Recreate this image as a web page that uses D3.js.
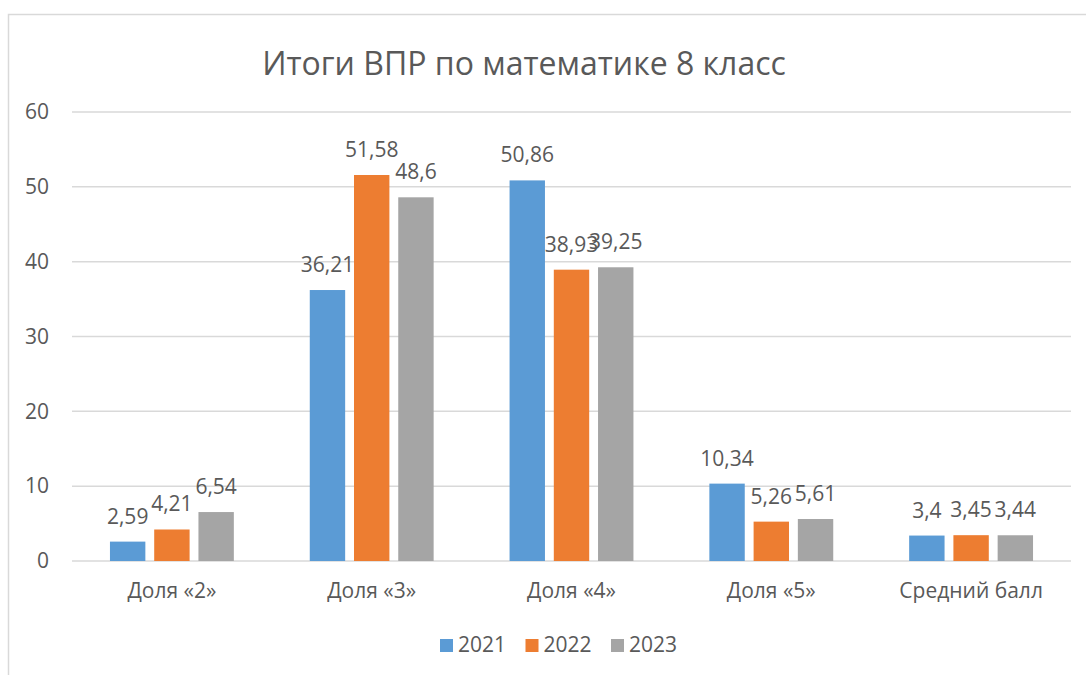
<!DOCTYPE html>
<html>
<head>
<meta charset="utf-8">
<script src="https://cdn.jsdelivr.net/npm/d3@7"></script>
<style>
  body { margin: 0; background: #fff; }
  svg text { font-family: "Open Sans", "Liberation Sans", sans-serif; fill: #595959; }
</style>
</head>
<body>
<div id="chart"></div>
<script>
'use strict';
var categories = ['Доля «2»', 'Доля «3»', 'Доля «4»', 'Доля «5»', 'Средний балл'];
var years = ['2021', '2022', '2023'];
var values2021 = [2.59, 36.21, 50.86, 10.34, 3.4];
var values2022 = [4.21, 51.58, 38.93, 5.26, 3.45];
var values2023 = [6.54, 48.6, 39.25, 5.61, 3.44];
var yTicks = [0, 10, 20, 30, 40, 50, 60];
var colors = ['#5b9bd5', '#ed7d31', '#a5a5a5'];

(function() {
  var series = [values2021, values2022, values2023];
  var W = 1086, H = 675;
  var plotLeft = 72, plotRight = 1071, plotTop = 112, plotBottom = 561;

  var svg = d3.select('#chart').append('svg')
    .attr('width', W)
    .attr('height', H);

  // chart frame (only left and top edges visible in the picture)
  svg.append('rect')
    .attr('x', 8.5).attr('y', 14.5)
    .attr('width', 1200).attr('height', 800)
    .attr('fill', 'none')
    .attr('stroke', '#d9d9d9')
    .attr('stroke-width', 1.5);

  svg.append('text')
    .attr('x', 524).attr('y', 75)
    .attr('text-anchor', 'middle')
    .style('font-size', '32px')
    .text('Итоги ВПР по математике 8 класс');

  var y = d3.scaleLinear().domain([0, 60]).range([plotBottom, plotTop]);

  var x0 = d3.scaleBand()
    .domain(categories)
    .range([plotLeft, plotRight])
    .paddingInner(0.38)
    .paddingOuter(0.19);

  var x1 = d3.scaleBand()
    .domain(years)
    .range([0, x0.bandwidth()])
    .paddingInner(0.2);

  // gridlines
  svg.append('g')
    .selectAll('line')
    .data(yTicks)
    .enter().append('line')
    .attr('x1', plotLeft).attr('x2', plotRight)
    .attr('y1', function(d) { return y(d); })
    .attr('y2', function(d) { return y(d); })
    .attr('stroke', '#d9d9d9')
    .attr('stroke-width', 1.5);

  // y axis labels
  var yAxis = svg.append('g')
    .attr('transform', 'translate(49,0)')
    .call(d3.axisLeft(y).tickValues(yTicks).tickSize(0).tickPadding(0));
  yAxis.select('.domain').remove();
  yAxis.selectAll('text').style('font-size', '21px').attr('fill', '#595959');

  // x axis labels
  var xAxis = svg.append('g')
    .attr('transform', 'translate(0,' + plotBottom + ')')
    .call(d3.axisBottom(x0).tickSize(0).tickPadding(22));
  xAxis.select('.domain').remove();
  xAxis.selectAll('text').style('font-size', '21px').attr('fill', '#595959');

  var groups = svg.append('g')
    .selectAll('g')
    .data(categories)
    .enter().append('g')
    .attr('transform', function(d) { return 'translate(' + x0(d) + ',0)'; });

  groups.selectAll('rect')
    .data(function(d, i) {
      return years.map(function(yr, j) { return {year: yr, value: series[j][i], k: j}; });
    })
    .enter().append('rect')
    .attr('x', function(d) { return x1(d.year); })
    .attr('width', x1.bandwidth())
    .attr('y', function(d) { return y(d.value); })
    .attr('height', function(d) { return plotBottom - y(d.value); })
    .attr('fill', function(d) { return colors[d.k]; });

  groups.selectAll('text.lbl')
    .data(function(d, i) {
      return years.map(function(yr, j) { return {year: yr, value: series[j][i]}; });
    })
    .enter().append('text')
    .attr('class', 'lbl')
    .attr('x', function(d) { return x1(d.year) + x1.bandwidth() / 2; })
    .attr('y', function(d) { return y(d.value) - 18; })
    .attr('text-anchor', 'middle')
    .style('font-size', '21px')
    .text(function(d) { return String(d.value).replace('.', ','); });

  // legend
  var legend = svg.append('g')
    .selectAll('g')
    .data(years)
    .enter().append('g')
    .attr('transform', function(d, i) { return 'translate(' + (440 + i * 85.5) + ',639)'; });
  legend.append('rect')
    .attr('width', 13).attr('height', 13)
    .attr('fill', function(d, i) { return colors[i]; });
  legend.append('text')
    .attr('x', 18).attr('y', 13)
    .style('font-size', '21px')
    .text(function(d) { return d; });
})();
</script>
</body>
</html>
